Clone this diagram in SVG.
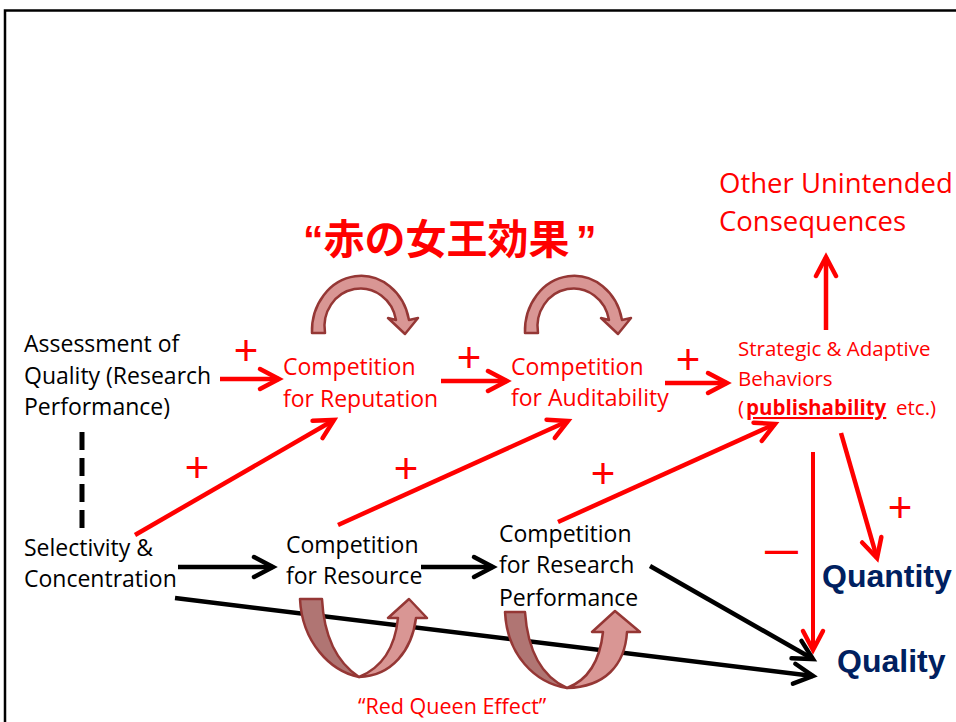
<svg xmlns="http://www.w3.org/2000/svg" width="956" height="722" viewBox="0 0 956 722">
<style>
.t{font-family:"Open Sans","Liberation Sans",sans-serif;font-size:23px}
.s{font-size:20.5px}
.k{fill:#000}
.r{fill:#f00}
.b{font-family:"Liberation Sans","Open Sans",sans-serif;font-weight:bold;font-size:32px;fill:#002060}
.pl{font-family:"Liberation Sans",sans-serif;font-size:42px;fill:#f00;text-anchor:middle}
.red{stroke:#f00;stroke-width:4.5;fill:none}
.blk{stroke:#000;stroke-width:4.5;fill:none}
.loop{fill:#D99694;stroke:#953735;stroke-width:2.5;stroke-linejoin:round}
.loopd{fill:#B07573;stroke:#953735;stroke-width:2.5;stroke-linejoin:round}
</style>
<defs>
<marker id="ar" viewBox="0 0 24 24" refX="21" refY="12" markerWidth="24" markerHeight="24" markerUnits="userSpaceOnUse" orient="auto" overflow="visible"><path d="M2,2 L21,12 L2,22" fill="none" stroke="#f00" stroke-width="4.5" stroke-linecap="round"/></marker>
<marker id="ak" viewBox="0 0 24 24" refX="21" refY="12" markerWidth="24" markerHeight="24" markerUnits="userSpaceOnUse" orient="auto" overflow="visible"><path d="M2,2 L21,12 L2,22" fill="none" stroke="#000" stroke-width="4.5" stroke-linecap="round"/></marker>
</defs>
<rect x="5" y="10.5" width="1000" height="800" fill="#fff" stroke="#000" stroke-width="2.5"/>

<g id="connectors">
<path class="red" d="M220,379 L279,379" marker-end="url(#ar)"/>
<path class="red" d="M441,381 L507,381" marker-end="url(#ar)"/>
<path class="red" d="M665,383 L727,383" marker-end="url(#ar)"/>
<path class="red" d="M135,535 L334,420" marker-end="url(#ar)"/>
<path class="red" d="M338,525 L568,421" marker-end="url(#ar)"/>
<path class="red" d="M558,522 L775,424" marker-end="url(#ar)"/>
<path class="red" d="M826,330 L826,257" marker-end="url(#ar)"/>
<path class="red" d="M841,433 L877,558" marker-end="url(#ar)"/>
<path class="red" style="stroke-width:4" d="M813,452 L813,650" marker-end="url(#ar)"/>
<path class="blk" d="M178,567 L273,567" marker-end="url(#ak)"/>
<path class="blk" d="M421,567 L493,567" marker-end="url(#ak)"/>
<path class="blk" d="M650,566 L813,659" marker-end="url(#ak)"/>
<path class="blk" d="M175,598 L813,676" marker-end="url(#ak)"/>
<path class="blk" style="stroke-width:5" stroke-dasharray="18 8" d="M82,432 L82,533"/>
</g>

<g id="signs">
<text class="pl" x="246" y="365">+</text>
<text class="pl" x="469" y="372">+</text>
<text class="pl" x="688" y="374">+</text>
<text class="pl" x="197" y="482">+</text>
<text class="pl" x="406" y="483">+</text>
<text class="pl" x="603" y="488">+</text>
<text class="pl" x="900" y="522">+</text>
<text x="765" y="561" style="font-family:'Liberation Sans',sans-serif;font-weight:bold;font-size:33px;fill:#f00">—</text>
</g>

<g id="red-queen-top">
<path class="loop" d="M312,333 A49 55 0 0 1 409,320 L418,318 L405,334 L388,318 L396,320 A36 38 0 0 0 325,333 Z"/>
<path class="loop" d="M525,333 A49 55 0 0 1 622,320 L631,318 L618,334 L601,318 L609,320 A36 38 0 0 0 538,333 Z"/>
<text x="303" y="254" style="font-family:'Liberation Sans','Noto Sans CJK JP',sans-serif;font-weight:bold;font-size:41px;fill:#f00">“赤の女王効果<tspan x="576">”</tspan></text>
</g>

<g id="red-queen-bottom">
<path class="loopd" d="M300,599 L322,599 C324,638 338,663 359,677 C330,671 302,642 300,599 Z"/>
<path class="loop" d="M359,677 C392,676 412,650 416,618 L427,618 L409,599 L388,618 L398,618 C395,648 381,668 359,677 Z"/>
<path class="loopd" d="M505,612 L525,612 C528,655 545,678 567,688 C535,683 507,655 505,612 Z"/>
<path class="loop" d="M567,688 C605,687 625,665 627,632 L640,632 L615,611 L592,632 L603,632 C600,660 588,680 567,688 Z"/>
<text class="t r" x="358" y="714" style="font-size:21.5px">“Red Queen Effect”</text>
</g>

<g id="node-assessment">
<text class="t k" x="24" y="352">Assessment of</text>
<text class="t k" x="24" y="384">Quality (Research</text>
<text class="t k" x="24" y="415">Performance)</text>
</g>
<g id="node-reputation">
<text class="t r" x="283" y="375">Competition</text>
<text class="t r" x="283" y="407">for Reputation</text>
</g>
<g id="node-auditability">
<text class="t r" x="511" y="375">Competition</text>
<text class="t r" x="511" y="406">for Auditability</text>
</g>
<g id="node-strategic">
<text class="t s r" x="738" y="356">Strategic &amp; Adaptive</text>
<text class="t s r" x="738" y="386">Behaviors</text>
<text class="t s r" x="738" y="415">(<tspan x="746" font-weight="bold" text-decoration="underline">publishability</tspan><tspan x="896">etc.)</tspan></text>
</g>
<g id="node-other">
<text class="t r" x="719" y="193" style="font-size:27.5px">Other Unintended</text>
<text class="t r" x="719" y="231" style="font-size:27.5px">Consequences</text>
</g>
<g id="node-selectivity">
<text class="t k" x="24" y="556">Selectivity &amp;</text>
<text class="t k" x="24" y="587">Concentration</text>
</g>
<g id="node-resource">
<text class="t k" x="286" y="553">Competition</text>
<text class="t k" x="286" y="584">for Resource</text>
</g>
<g id="node-research">
<text class="t k" x="499" y="542">Competition</text>
<text class="t k" x="499" y="573">for Research</text>
<text class="t k" x="499" y="606">Performance</text>
</g>
<g id="node-quantity"><text class="b" x="822" y="587">Quantity</text></g>
<g id="node-quality"><text class="b" x="837" y="672">Quality</text></g>
</svg>
